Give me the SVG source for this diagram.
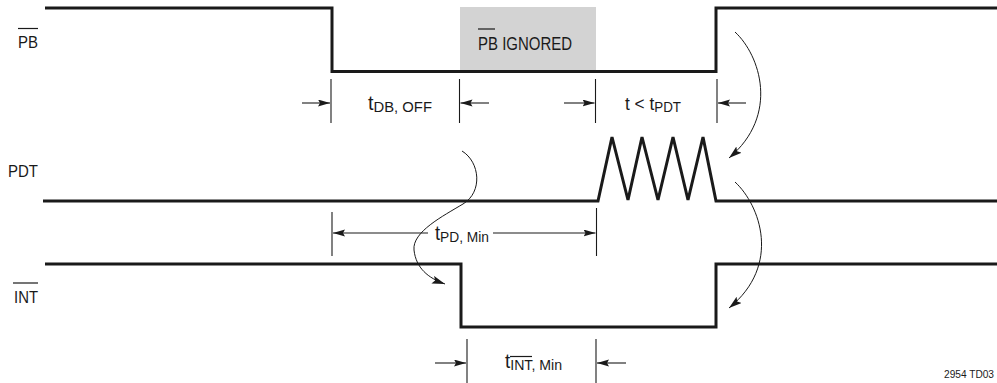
<svg xmlns="http://www.w3.org/2000/svg" width="997" height="383" viewBox="0 0 997 383">
<style>
.sig{fill:none;stroke:#1a1a1a;stroke-width:3;stroke-linejoin:miter;stroke-linecap:butt}
.thin{fill:none;stroke:#1a1a1a;stroke-width:1.1}
.dim{fill:none;stroke:#1a1a1a;stroke-width:1.1;marker-end:url(#dimArrow)}
.curve{fill:none;stroke:#1a1a1a;stroke-width:1;marker-end:url(#curveArrow)}
.ol{stroke:#1a1a1a;stroke-width:1.2}
text{font-family:"Liberation Sans",Arial,sans-serif;fill:#1a1a1a}
.lbl{font-size:17px}
.tl{font-size:20px}
.sub{font-size:15px}
.note{font-size:10px}
</style>
<defs>
<marker id="dimArrow" markerUnits="userSpaceOnUse" markerWidth="14" markerHeight="8" refX="12" refY="3.5" orient="auto">
<path d="M0,0 L12,3.5 L0,7 L2,3.5 z" fill="#1a1a1a"/>
</marker>
<marker id="curveArrow" markerUnits="userSpaceOnUse" markerWidth="15" markerHeight="10" refX="13" refY="4" orient="auto">
<path d="M0,0 L13,4 L0,8 L2.5,4 z" fill="#1a1a1a"/>
</marker>
</defs>

<g id="ignored-box">
<rect x="460" y="7" width="136" height="64" fill="#d3d3d3"/>
<text x="478" y="50" textLength="94" lengthAdjust="spacingAndGlyphs" style="font-size:19px">PB IGNORED</text>
<line class="ol" x1="478" y1="29" x2="495" y2="29"/>
</g>

<g id="pb">
<text class="lbl" x="18" y="48" textLength="20" lengthAdjust="spacingAndGlyphs">PB</text>
<line class="ol" x1="18" y1="28.5" x2="38" y2="28.5"/>
<polyline class="sig" points="45,8 332,8 332,71.5 716,71.5 716,8 997,8"/>
</g>

<g id="pdt">
<text class="lbl" x="8" y="177" textLength="30" lengthAdjust="spacingAndGlyphs">PDT</text>
<polyline class="sig" points="43,201 598,201 612,137 628,200 642,137 658,200 673,137 688,200 703,137 716,201 997,201"/>
</g>

<g id="int">
<text class="lbl" x="14" y="303" textLength="24" lengthAdjust="spacingAndGlyphs">INT</text>
<line class="ol" x1="13" y1="283" x2="38" y2="283"/>
<polyline class="sig" points="45,264 461,264 461,327 716,327 716,264 997,264"/>
</g>

<g id="dimensions">
<line class="thin" x1="331" y1="79" x2="331" y2="123"/>
<line class="thin" x1="459.5" y1="79" x2="459.5" y2="123"/>
<line class="thin" x1="595.5" y1="79" x2="595.5" y2="123"/>
<line class="thin" x1="717" y1="79" x2="717" y2="123"/>
<line class="dim" x1="302" y1="103" x2="330" y2="103"/>
<line class="dim" x1="489" y1="103" x2="460.5" y2="103"/>
<line class="dim" x1="564" y1="103" x2="594.5" y2="103"/>
<line class="dim" x1="746" y1="103" x2="718" y2="103"/>
<text class="tl" x="368" y="110" textLength="64" lengthAdjust="spacingAndGlyphs">t<tspan class="sub" dy="1.5">DB, OFF</tspan></text>
<text x="625" y="110" textLength="56" lengthAdjust="spacingAndGlyphs" style="font-size:18px">t &lt; t<tspan dy="1.5" style="font-size:14px">PDT</tspan></text>

<line class="thin" x1="332" y1="212" x2="332" y2="256"/>
<line class="thin" x1="596.5" y1="208" x2="596.5" y2="256"/>
<line class="dim" x1="428" y1="233" x2="333" y2="233"/>
<line class="dim" x1="493" y1="233" x2="595.5" y2="233"/>
<text class="tl" x="435" y="240" textLength="54" lengthAdjust="spacingAndGlyphs">t<tspan class="sub" dy="1.5">PD, Min</tspan></text>

<line class="thin" x1="467" y1="339" x2="467" y2="383"/>
<line class="thin" x1="596" y1="339" x2="596" y2="383"/>
<line class="dim" x1="435" y1="363" x2="466" y2="363"/>
<line class="dim" x1="626" y1="363" x2="597" y2="363"/>
<text class="tl" x="505" y="368" textLength="57" lengthAdjust="spacingAndGlyphs">t<tspan class="sub" dy="2">INT, Min</tspan></text>
<line class="ol" x1="510" y1="356.5" x2="532" y2="356.5"/>
</g>

<g id="connectors">
<path class="curve" d="M735,32 C760,55 780,115 729,158"/>
<path class="curve" d="M735,182 C760,205 782,265 729,308"/>
<path class="curve" d="M462,151 C480,162 483,192 463,204 C443,216 412,232 414,250 C416,268 428,278 445,284"/>
</g>

<text class="note" x="944" y="378" textLength="50" lengthAdjust="spacingAndGlyphs">2954 TD03</text>
</svg>
